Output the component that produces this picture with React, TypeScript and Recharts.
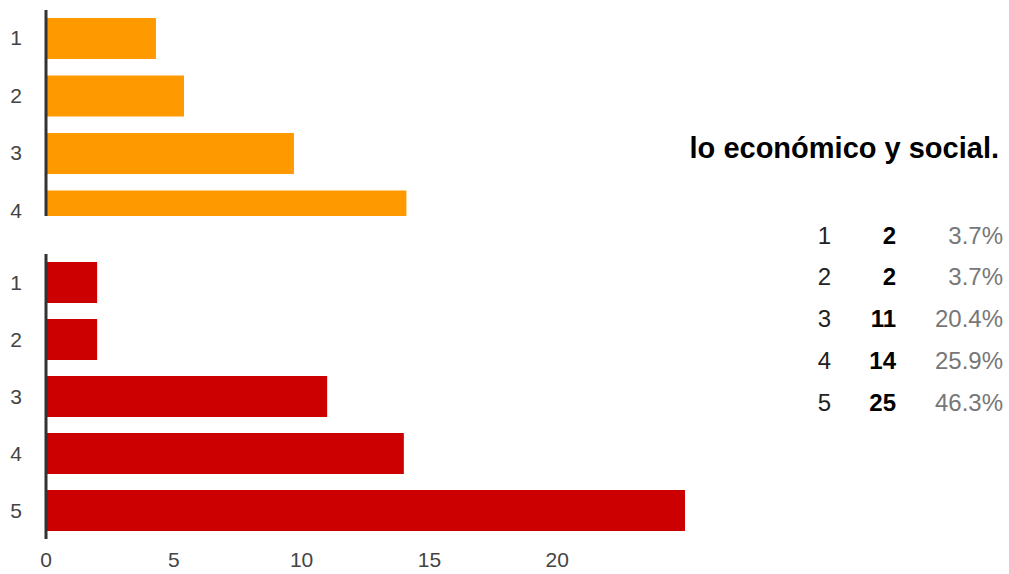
import { BarChart, Bar, XAxis, YAxis } from "recharts";

// upper chart (previous question, cut off at the bottom)
const prevLabels = ["1", "2", "3", "4"];
const prevCounts = [4.3, 5.4, 9.7, 14.1];

// this question: "lo económico y social."
const labels = ["1", "2", "3", "4", "5"];
const counts = [2, 2, 11, 14, 25];
const percents = ["3.7%", "3.7%", "20.4%", "25.9%", "46.3%"];
const xTicks = [0, 5, 10, 15, 20];

const title = "lo económico y social.";

const FONT = "'Liberation Sans', Arial, sans-serif";

const prevData = prevLabels.map((l, i) => ({ label: l, value: prevCounts[i] }));
const data = labels.map((l, i) => ({ label: l, value: counts[i] }));

const YTick = (props: any) => (
  <text x={props.x} y={props.y} dy={props.shift ?? "0.355em"} textAnchor="end" fill="#444" fontSize={21} fontFamily={FONT}>
    {props.payload.value}
  </text>
);

const XTick = (props: any) => (
  <text x={props.x} y={props.y} dy="0.71em" textAnchor="middle" fill="#444" fontSize={21} fontFamily={FONT}>
    {props.payload.value}
  </text>
);

export default function App() {
  return (
    <div
      style={{
        position: "absolute",
        left: 0,
        top: 0,
        width: 1009,
        height: 574,
        background: "#fff",
        overflow: "hidden",
        fontFamily: FONT,
      }}
    >
      {/* top chart: the previous question, its lower part is hidden */}
      <div style={{ position: "absolute", left: 0, top: 0, width: 700, height: 240 }}>
        <BarChart
          layout="vertical"
          width={700}
          height={240}
          data={prevData}
          margin={{ top: 10, right: 15, bottom: 0, left: 0 }}
        >
          <XAxis type="number" domain={[0, 25]} hide />
          <YAxis
            type="category"
            dataKey="label"
            width={46}
            tickLine={false}
            tickSize={0}
            tickMargin={24}
            axisLine={{ stroke: "#333", strokeWidth: 3 }}
            tick={(p: any) => <YTick {...p} shift="0.3em" />}
          />
          <Bar dataKey="value" fill="#ff9900" barSize={41} isAnimationActive={false} />
        </BarChart>
        <div
          style={{ position: "absolute", left: 36, top: 216, width: 664, height: 24, background: "#fff" }}
        />
      </div>

      {/* bottom chart */}
      <div style={{ position: "absolute", left: 0, top: 240, width: 700, height: 334 }}>
        <BarChart
          layout="vertical"
          width={700}
          height={334}
          data={data}
          margin={{ top: 14, right: 15, bottom: 0, left: 0 }}
        >
          <XAxis
            type="number"
            domain={[0, 25]}
            ticks={xTicks}
            height={35}
            axisLine={false}
            tickLine={false}
            tickSize={0}
            tickMargin={13}
            tick={(p: any) => <XTick {...p} />}
          />
          <YAxis
            type="category"
            dataKey="label"
            width={46}
            tickLine={false}
            tickSize={0}
            tickMargin={24}
            axisLine={{ stroke: "#333", strokeWidth: 3 }}
            tick={(p: any) => <YTick {...p} />}
          />
          <Bar dataKey="value" fill="#cc0000" barSize={41} isAnimationActive={false} />
        </BarChart>
      </div>

      {/* title and summary table */}
      <svg
        width={1009}
        height={574}
        style={{ position: "absolute", left: 0, top: 0, pointerEvents: "none" }}
      >
        <text x={999} y={158} textAnchor="end" fontSize={29} fontWeight="bold" fill="#000" fontFamily={FONT}>
          {title}
        </text>
        {labels.map((l, i) => {
          const y = 243.5 + i * 41.8;
          return (
            <g key={l} fontFamily={FONT} fontSize={24}>
              <text x={831} y={y} textAnchor="end" fill="#222">
                {l}
              </text>
              <text x={896} y={y} textAnchor="end" fill="#000" fontWeight="bold">
                {counts[i]}
              </text>
              <text x={1003} y={y} textAnchor="end" fill="#777">
                {percents[i]}
              </text>
            </g>
          );
        })}
      </svg>
    </div>
  );
}
